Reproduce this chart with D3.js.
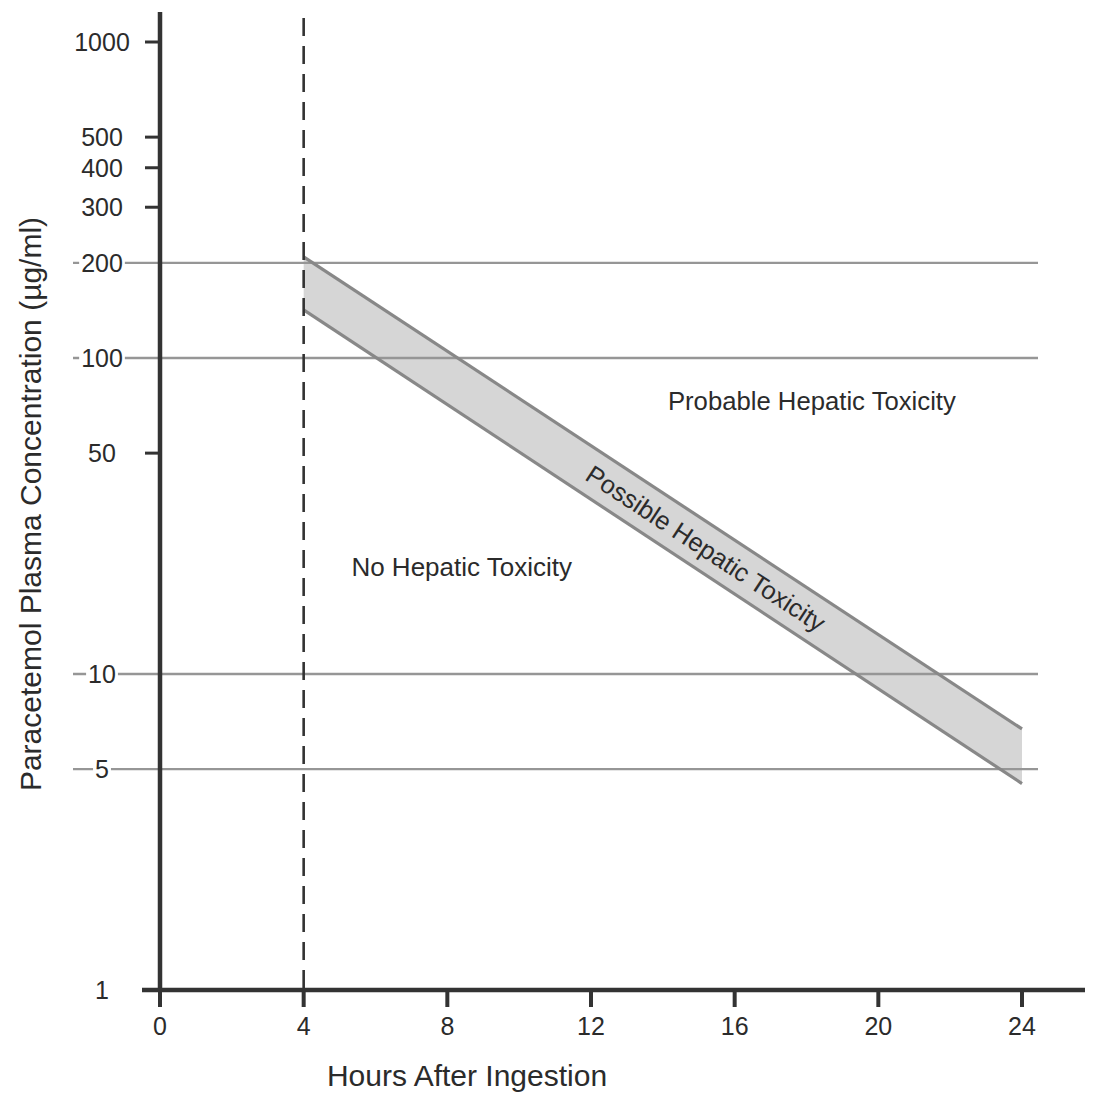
<!DOCTYPE html>
<html>
<head>
<meta charset="utf-8">
<script src="https://cdn.jsdelivr.net/npm/d3@7"></script>
<style>
  body { margin: 0; background: #fff; }
  svg text { font-family: "Liberation Sans", Arial, sans-serif; fill: #2b2b2b; }
</style>
</head>
<body>
<div id="chart"></div>
<script>
// nomogram data
var hourTicks = [0, 4, 8, 12, 16, 20, 24];
var concTicks = [1000, 500, 400, 300, 50, 1];     // labels with short tick marks (1 sits on x axis)
var gridValues = [200, 100, 10, 5];              // labels with full horizontal lines
var bandHours = [4, 24];
var upperLine = [209, 6.7];
var lowerLine = [142, 4.5];
var ingestionHour = 4;

var W = 1098, H = 1097;
var svg = d3.select("#chart").append("svg").attr("width", W).attr("height", H);

var x = d3.scaleLinear().domain([0, 24]).range([160, 1022]);
var y = d3.scaleLog().domain([1, 1000]).range([990, 42]);

var axisColor = "#333";

//band of possible toxicity
var band = bandHours.map(function (h, i) { return [x(h), y(upperLine[i])]; })
  .concat(bandHours.slice().reverse().map(function (h, i) {
    return [x(h), y(lowerLine[lowerLine.length - 1 - i])];
  }));
svg.append("path")
  .attr("d", "M" + band.join("L") + "Z")
  .attr("fill", "#d6d6d6");

//gridlines
svg.selectAll(".grid").data(gridValues).enter()
  .append("line")
    .attr("class", "grid")
    .attr("x1", 73).attr("x2", 1038)
    .attr("y1", function (d) { return y(d); })
    .attr("y2", function (d) { return y(d); })
    .attr("stroke", "#969696")
    .attr("stroke-width", 2.4);

//band edges
var line = d3.line().x(function (d) { return x(d[0]); }).y(function (d) { return y(d[1]); });
[upperLine, lowerLine].forEach(function (vals) {
  svg.append("path")
    .attr("d", line(bandHours.map(function (h, i) { return [h, vals[i]]; })))
    .attr("fill", "none")
    .attr("stroke", "#888")
    .attr("stroke-width", 3.2);
});

//dashed line at 4 hours
svg.append("line")
  .attr("x1", x(ingestionHour)).attr("x2", x(ingestionHour))
  .attr("y1", 18).attr("y2", 990)
  .attr("stroke", axisColor)
  .attr("stroke-width", 2.6)
  .attr("stroke-dasharray", "18,10");

//axes
svg.append("line")
  .attr("x1", 160).attr("x2", 160).attr("y1", 12).attr("y2", 992)
  .attr("stroke", axisColor).attr("stroke-width", 4.5);
svg.append("line")
  .attr("x1", 142).attr("x2", 1085).attr("y1", 990).attr("y2", 990)
  .attr("stroke", axisColor).attr("stroke-width", 4.5);

//y ticks
svg.selectAll(".ytick").data(concTicks.filter(function (d) { return d > 1; })).enter()
  .append("line")
    .attr("x1", 145).attr("x2", 160)
    .attr("y1", function (d) { return y(d); })
    .attr("y2", function (d) { return y(d); })
    .attr("stroke", axisColor).attr("stroke-width", 3);

var labelX = 102;
svg.selectAll(".ylab").data(concTicks).enter()
  .append("text")
    .attr("x", labelX)
    .attr("y", function (d) { return y(d); })
    .attr("dy", "0.36em")
    .attr("text-anchor", "middle")
    .style("font-size", "25px")
    .text(function (d) { return d; });

//gridline labels sit on a white patch
var gl = svg.selectAll(".glab").data(gridValues).enter().append("g");
gl.append("rect");
gl.append("text")
  .attr("x", labelX)
  .attr("y", function (d) { return y(d); })
  .attr("dy", "0.36em")
  .attr("text-anchor", "middle")
  .style("font-size", "25px")
  .text(function (d) { return d; });
gl.each(function () {
  var g = d3.select(this);
  var bb = g.select("text").node().getBBox();
  g.select("rect")
    .attr("x", bb.x - 2).attr("y", bb.y + 3)
    .attr("width", bb.width + 4).attr("height", bb.height - 6)
    .attr("fill", "#fff");
});

//x ticks
svg.selectAll(".xtick").data(hourTicks).enter()
  .append("line")
    .attr("x1", function (d) { return x(d); })
    .attr("x2", function (d) { return x(d); })
    .attr("y1", 990).attr("y2", 1007)
    .attr("stroke", axisColor).attr("stroke-width", 4);
svg.selectAll(".xlab").data(hourTicks).enter()
  .append("text")
    .attr("x", function (d) { return x(d); })
    .attr("y", 1035)
    .attr("text-anchor", "middle")
    .style("font-size", "25px")
    .text(function (d) { return d; });

//axis titles
svg.append("text")
  .attr("x", 467).attr("y", 1086)
  .attr("text-anchor", "middle")
  .style("font-size", "30px")
  .text("Hours After Ingestion");
svg.append("text")
  .attr("transform", "translate(41,504) rotate(-90)")
  .attr("text-anchor", "middle")
  .style("font-size", "30px")
  .text("Paracetemol Plasma Concentration (µg/ml)");

//region labels
svg.append("text")
  .attr("x", x(18.15)).attr("y", y(73)).attr("dy", "0.36em")
  .attr("text-anchor", "middle")
  .style("font-size", "25.7px")
  .text("Probable Hepatic Toxicity");
svg.append("text")
  .attr("x", x(8.4)).attr("y", y(21.8)).attr("dy", "0.36em")
  .attr("text-anchor", "middle")
  .style("font-size", "26px")
  .text("No Hepatic Toxicity");

var angle = Math.atan2(y(upperLine[1]) - y(upperLine[0]), x(24) - x(4)) * 180 / Math.PI;
var midHour = 15.2;
var t = (midHour - bandHours[0]) / (bandHours[1] - bandHours[0]);
var logMid = (Math.log10(upperLine[0]) + Math.log10(lowerLine[0])) / 2 * (1 - t) +
             (Math.log10(upperLine[1]) + Math.log10(lowerLine[1])) / 2 * t;
svg.append("text")
  .attr("transform", "translate(" + x(midHour) + "," + y(Math.pow(10, logMid)) + ") rotate(" + angle + ")")
  .attr("dy", "0.36em")
  .attr("text-anchor", "middle")
  .style("font-size", "25.5px")
  .text("Possible Hepatic Toxicity");
</script>
</body>
</html>
